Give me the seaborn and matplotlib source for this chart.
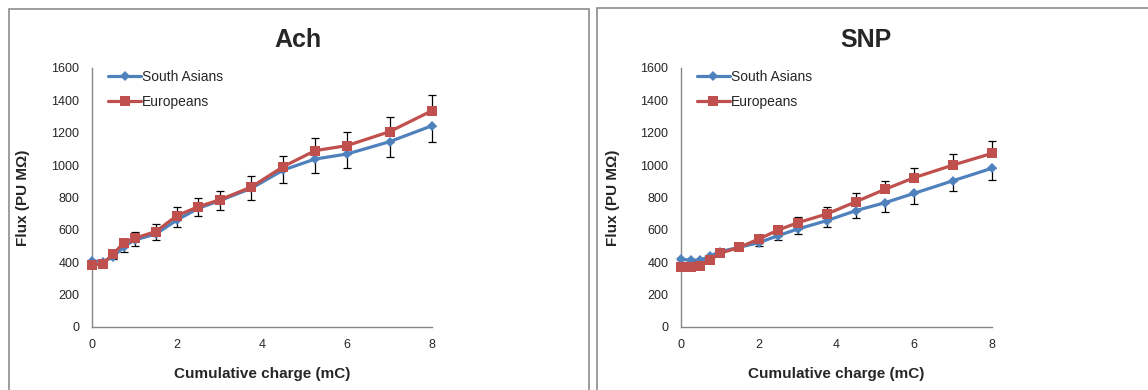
"""
Flux vs cumulative charge, Ach and SNP, South Asians vs Europeans
"""
import numpy as np
import pandas as pd
import matplotlib
matplotlib.use('Agg')
import matplotlib.pyplot as plt
import seaborn as sns
from matplotlib.patches import Rectangle

sns.set_style('white')
plt.rcParams['font.family'] = ['Liberation Sans', 'DejaVu Sans']

# cumulative charge (mC)
charge = [0, 0.25, 0.5, 0.75, 1.0, 1.5, 2.0, 2.5, 3.0, 3.75, 4.5, 5.25, 6.0, 7.0, 8.0]

# Ach panel
ach_sa = [408, 402, 433, 495, 536, 573, 660, 732, 779, 856, 969, 1037, 1068, 1144, 1243]
ach_eu = [381, 388, 450, 520, 547, 588, 687, 742, 784, 864, 990, 1089, 1120, 1206, 1336]
ach_sa_err = [5, 8, 15, 35, 35, 37, 41, 47, 58, 72, 78, 85, 89, 97, 99]   # lower
ach_eu_err = [5, 8, 15, 23, 37, 45, 56, 56, 58, 66, 68, 76, 87, 89, 97]   # upper

# SNP panel
snp_sa = [417, 412, 412, 437, 464, 491, 520, 563, 604, 656, 718, 767, 825, 903, 980]
snp_eu = [371, 371, 377, 412, 454, 491, 542, 598, 643, 697, 773, 850, 922, 1000, 1072]
snp_sa_err = [5, 5, 5, 8, 10, 15, 18, 27, 31, 37, 47, 56, 66, 64, 72]    # lower
snp_eu_err = [5, 5, 5, 8, 10, 12, 15, 27, 37, 45, 52, 54, 62, 66, 76]   # upper

groups = ['South Asians', 'Europeans']
palette = {'South Asians': '#4F81BD', 'Europeans': '#C0504D'}
markers = {'South Asians': 'D', 'Europeans': 's'}

W, H = 1148, 390
fig = plt.figure(figsize=(W / 100, H / 100), dpi=100)

panels = [
    ('Ach', ach_sa, ach_eu, ach_sa_err, ach_eu_err, (92, 340), 298, -0.182),
    ('SNP', snp_sa, snp_eu, snp_sa_err, snp_eu_err, (681, 311), 866, -0.195),
]

for title, sa, eu, sa_err, eu_err, (x0, w), tx, ylab_x in panels:
    ax = fig.add_axes([x0 / W, (H - 326.7) / H, w / W, 258.7 / H])
    df = pd.DataFrame({
        'charge': charge * 2,
        'flux': sa + eu,
        'group': ['South Asians'] * len(charge) + ['Europeans'] * len(charge),
    })
    sns.lineplot(data=df, x='charge', y='flux', hue='group', style='group',
                 hue_order=groups, style_order=groups, palette=palette,
                 markers=markers, dashes=False, linewidth=2.3,
                 markersize=7.2, markeredgewidth=0, legend=False, ax=ax,
                 zorder=3)
    handles = list(ax.lines[:2])
    for l, g in zip(handles, groups):
        l.set_clip_on(False)
        if g == 'South Asians':
            l.set_markersize(5.5)

    # error bars: minus for South Asians, plus for Europeans
    for y, err in [(sa, [sa_err, [0] * len(sa_err)]), (eu, [[0] * len(eu_err), eu_err])]:
        eb = ax.errorbar(charge, y, yerr=err, fmt='none', ecolor='black',
                         elinewidth=0.9, capsize=3, capthick=0.9, zorder=2)
        for art in eb.lines[1] + eb.lines[2]:
            art.set_clip_on(False)

    ax.set_xlim(0, 8)
    ax.set_ylim(0, 1600)
    ax.set_xticks([0, 2, 4, 6, 8])
    ax.set_yticks(np.arange(0, 1601, 200))
    ax.tick_params(length=0, labelsize=9, pad=9)
    for s in ['top', 'right']:
        ax.spines[s].set_visible(False)
    for s in ['left', 'bottom']:
        ax.spines[s].set_color('#868686')
        ax.spines[s].set_linewidth(1.0)

    ax.set_xlabel('Cumulative charge (mC)', fontsize=11, fontweight='bold')
    ax.set_ylabel('Flux (PU MΩ)', fontsize=11, fontweight='bold')
    ax.xaxis.set_label_coords(0.5, -0.156)
    ax.yaxis.set_label_coords(ylab_x, 0.5)

    ax.legend(handles, groups, loc='upper left', bbox_to_anchor=(0.01, 1.04),
              frameon=False, fontsize=10, handlelength=2.4, handletextpad=0.05,
              labelspacing=0.75)

    fig.text(tx / W, (H - 40) / H, title, ha='center', va='center',
             fontsize=18, fontweight='bold')

# chart area borders
fig.add_artist(Rectangle((9 / W, -0.1), 580 / W, (H - 9) / H + 0.1,
                         transform=fig.transFigure, fill=False,
                         edgecolor='#8c8c8c', linewidth=1.2))
fig.add_artist(Rectangle((597 / W, -0.1), 0.6, (H - 8) / H + 0.1,
                         transform=fig.transFigure, fill=False,
                         edgecolor='#8c8c8c', linewidth=1.2))

fig.savefig('out.png', dpi=100)
